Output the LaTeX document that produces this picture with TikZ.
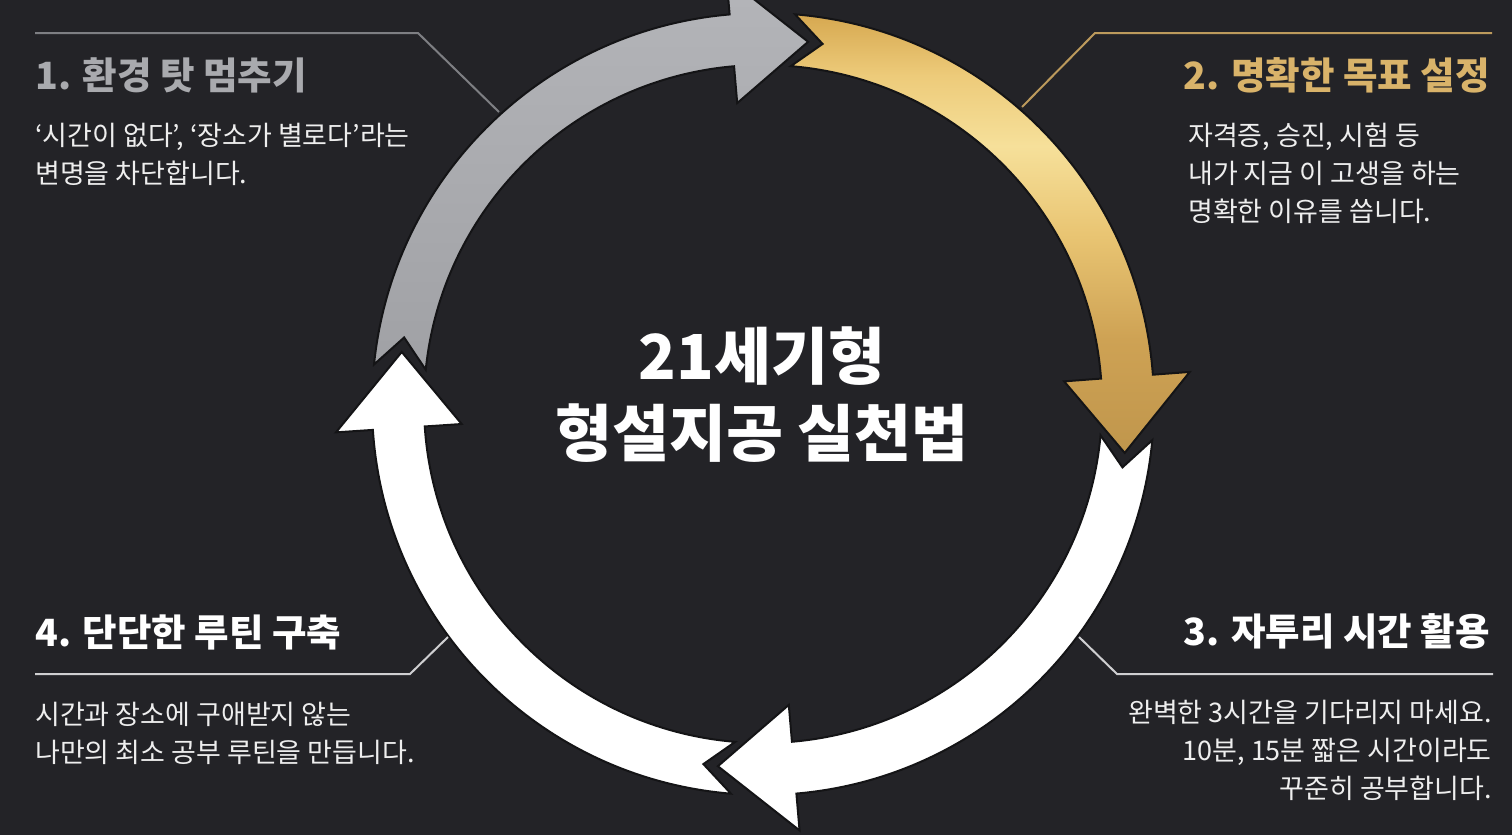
\documentclass[tikz,border=0pt]{standalone}
\usepackage{fontspec}
\setmainfont{Noto Sans CJK KR}
\definecolor{bg}{HTML}{232327}
\definecolor{ringgrayA}{HTML}{B4B5B9}
\definecolor{ringgrayB}{HTML}{A0A1A5}
\definecolor{headgray}{HTML}{A9AAAE}
\definecolor{headgold}{HTML}{D9B36A}
\definecolor{linegray}{HTML}{7E7F83}
\definecolor{linegold}{HTML}{BC9A5C}
\definecolor{linelight}{HTML}{CFCFD1}
\definecolor{bodytext}{HTML}{EEEEEE}
\definecolor{outl}{HTML}{141416}
\pgfdeclareverticalshading{goldshade}{100bp}{%
  color(0bp)=(rgb,255:red,192;green,150;blue,76);
  color(25bp)=(rgb,255:red,192;green,150;blue,76);
  color(38bp)=(rgb,255:red,206;green,162;blue,84);
  color(50bp)=(rgb,255:red,233;green,197;blue,115);
  color(60bp)=(rgb,255:red,246;green,224;blue,154);
  color(68bp)=(rgb,255:red,237;green,203;blue,122);
  color(75bp)=(rgb,255:red,214;green,168;blue,80);
  color(100bp)=(rgb,255:red,214;green,168;blue,80)}
\begin{document}
\begin{tikzpicture}[x=1pt,y=-1pt,
  heading/.style={inner sep=0pt, font=\bfseries\fontsize{37.5}{42}\selectfont},
  bodytxt/.style={inner sep=0pt, text=bodytext, font=\fontsize{27}{38}\selectfont},
  titletxt/.style={inner sep=0pt, text=white, font=\bfseries\fontsize{62}{80}\selectfont},
  leader/.style={line width=2pt, line join=miter},
  ringpiece/.style={draw=outl, line width=2pt, line join=miter}
]
\useasboundingbox (0,0) rectangle (1512,835);
\fill[bg] (0,0) rectangle (1512,835);

\begin{scope}
\clip (0,0) rectangle (1512,835);
\begin{scope}[shift={(763,404)}]
% gray arc: left -> top
\shade[ringpiece, top color=ringgrayA, bottom color=ringgrayB]
  (185.8:391) arc[start angle=185.8, end angle=265.1, radius=391]
  -- (265.1:428) -- (277.1:365) -- (265.1:302) -- (265.1:339)
  arc[start angle=265.1, end angle=185.8, radius=339] -- (190.5:365) -- cycle;
% gold arc: top -> right
\shade[ringpiece, shading=goldshade]
  (274.7:391) arc[start angle=274.7, end angle=355.7, radius=391]
  -- (355.7:428) -- (367.7:365) -- (355.7:302) -- (355.7:339)
  arc[start angle=355.7, end angle=274.7, radius=339] -- (279.4:365) -- cycle;
% white arc: right -> bottom
\fill[ringpiece, fill=white]
  (5.3:391) arc[start angle=5.3, end angle=85.1, radius=391]
  -- (85.1:428) -- (97.1:365) -- (85.1:302) -- (85.1:339)
  arc[start angle=85.1, end angle=5.3, radius=339] -- (10.0:365) -- cycle;
% white arc: bottom -> left
\fill[ringpiece, fill=white]
  (94.7:391) arc[start angle=94.7, end angle=176.2, radius=391]
  -- (176.2:428) -- (188.2:365) -- (176.2:302) -- (176.2:339)
  arc[start angle=176.2, end angle=94.7, radius=339] -- (99.4:365) -- cycle;
\end{scope}
\end{scope}

% leader lines
\coordinate (l1a) at (35,33);   \coordinate (l1b) at (418,33);   \coordinate (l1c) at (499,112);
\coordinate (l2a) at (1492,33); \coordinate (l2b) at (1095,33);  \coordinate (l2c) at (1022,107);
\coordinate (l3a) at (1493,674);\coordinate (l3b) at (1117,674); \coordinate (l3c) at (1079,637);
\coordinate (l4a) at (35,674);  \coordinate (l4b) at (410,674);  \coordinate (l4c) at (448,637);
\draw[leader, linegray] (l1a) -- (l1b) -- (l1c);
\draw[leader, linegold] (l2a) -- (l2b) -- (l2c);
\draw[leader, linelight] (l3a) -- (l3b) -- (l3c);
\draw[leader, linelight] (l4a) -- (l4b) -- (l4c);

% title
\node[titletxt] (t1) at (762,356) {21세기형};
\node[titletxt] (t2) at (762,433) {형설지공 실천법};

% item 1
\node[heading, text=headgray, anchor=west] (h1) at (35,75) {1. 환경 탓 멈추기};
\node[bodytxt, anchor=north west, align=left] (b1) at (35,123)
  {‘시간이 없다’, ‘장소가 별로다’라는\\변명을 차단합니다.};
% item 2
\node[heading, text=headgold, anchor=east] (h2) at (1490,75) {2. 명확한 목표 설정};
\node[bodytxt, anchor=north west, align=left] (b2) at (1188,123)
  {자격증, 승진, 시험 등\\내가 지금 이 고생을 하는\\명확한 이유를 씁니다.};
% item 3
\node[heading, text=white, anchor=east] (h3) at (1490,631) {3. 자투리 시간 활용};
\node[bodytxt, anchor=north east, align=right] (b3) at (1492,700)
  {완벽한 3시간을 기다리지 마세요.\\10분, 15분 짧은 시간이라도\\꾸준히 공부합니다.};
% item 4
\node[heading, text=white, anchor=west] (h4) at (35,632) {4. 단단한 루틴 구축};
\node[bodytxt, anchor=north west, align=left] (b4) at (35,702)
  {시간과 장소에 구애받지 않는\\나만의 최소 공부 루틴을 만듭니다.};
\end{tikzpicture}
\end{document}
